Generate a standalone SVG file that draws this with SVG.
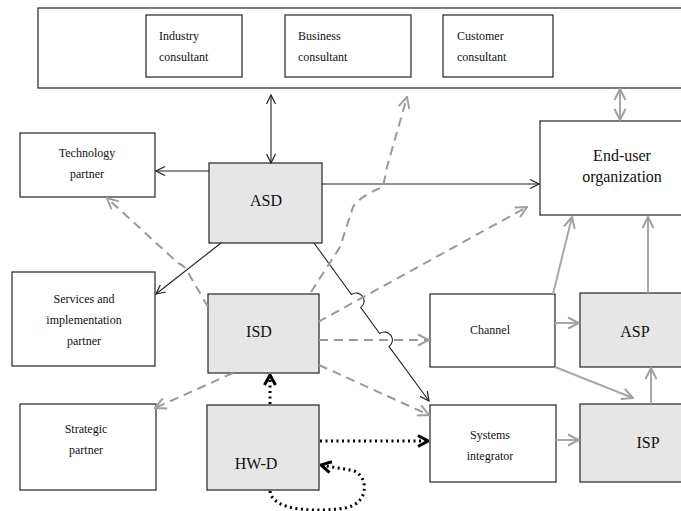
<svg xmlns="http://www.w3.org/2000/svg" width="681" height="511" viewBox="0 0 681 511">
<defs>
<style>
.box{fill:#fff;stroke:#333;stroke-width:1.3}
.gbox{fill:#e6e6e6;stroke:#333;stroke-width:1.3}
.t{font-family:"Liberation Serif","Times New Roman",serif;font-size:12px;fill:#111}
.tb{font-family:"Liberation Serif","Times New Roman",serif;font-size:16px;fill:#111}
.blk{fill:none;stroke:#222;stroke-width:1.1}
.gry{fill:none;stroke:#a8a8a8;stroke-width:2}
.dsh{fill:none;stroke:#999;stroke-width:2;stroke-dasharray:9 6}
.dot{fill:none;stroke:#000;stroke-width:3;stroke-dasharray:2 3.5}
</style>
<marker id="ab" markerUnits="userSpaceOnUse" markerWidth="12" markerHeight="12" viewBox="0 0 12 12" refX="11" refY="6" orient="auto-start-reverse"><path d="M2,1.5 L11,6 L2,10.5" fill="none" stroke="#222" stroke-width="1.2"/></marker>
<marker id="ag" markerUnits="userSpaceOnUse" markerWidth="14" markerHeight="14" viewBox="0 0 14 14" refX="13" refY="7" orient="auto-start-reverse"><path d="M2,1.5 L13,7 L2,12.5" fill="none" stroke="#a0a0a0" stroke-width="2"/></marker>
<marker id="ad" markerUnits="userSpaceOnUse" markerWidth="14" markerHeight="14" viewBox="0 0 14 14" refX="13" refY="7" orient="auto"><path d="M3,1.5 L13,7 L3,12.5" fill="none" stroke="#000" stroke-width="3"/></marker>
</defs>

<g id="consultants">
<rect class="box" x="38" y="8" width="650" height="80"/>
</g>
<g id="industry"><rect class="box" x="146" y="15" width="96" height="62"/><text class="t" x="159" y="40">Industry</text><text class="t" x="159" y="61">consultant</text></g>
<g id="business"><rect class="box" x="285" y="15" width="126" height="62"/><text class="t" x="298" y="40">Business</text><text class="t" x="298" y="61">consultant</text></g>
<g id="customer"><rect class="box" x="443" y="15" width="110" height="62"/><text class="t" x="457" y="40">Customer</text><text class="t" x="457" y="61">consultant</text></g>

<g id="technology"><rect class="box" x="20" y="133" width="135" height="64"/><text class="t" x="87" y="157" text-anchor="middle">Technology</text><text class="t" x="87" y="178" text-anchor="middle">partner</text></g>
<g id="asd"><rect class="gbox" x="209" y="163" width="113" height="80"/><text class="tb" x="266" y="206" text-anchor="middle">ASD</text></g>
<g id="enduser"><rect class="box" x="540" y="121" width="150" height="94"/><text class="tb" x="622" y="161" text-anchor="middle">End-user</text><text class="tb" x="622" y="182" text-anchor="middle">organization</text></g>
<g id="services"><rect class="box" x="12" y="272" width="143" height="94"/><text class="t" x="84" y="303" text-anchor="middle">Services and</text><text class="t" x="84" y="324" text-anchor="middle">implementation</text><text class="t" x="84" y="345" text-anchor="middle">partner</text></g>
<g id="isd"><rect class="gbox" x="208" y="294" width="111" height="79"/><text class="tb" x="259" y="337" text-anchor="middle">ISD</text></g>
<g id="channel"><rect class="box" x="430" y="294" width="125" height="73"/><text class="t" x="490" y="334" text-anchor="middle">Channel</text></g>
<g id="asp"><rect class="gbox" x="580" y="293" width="110" height="74"/><text class="tb" x="635" y="337" text-anchor="middle">ASP</text></g>
<g id="strategic"><rect class="box" x="20" y="404" width="136" height="86"/><text class="t" x="86" y="433" text-anchor="middle">Strategic</text><text class="t" x="86" y="454" text-anchor="middle">partner</text></g>
<g id="hwd"><rect class="gbox" x="207" y="405" width="112" height="85"/><text class="tb" x="256" y="469" text-anchor="middle">HW-D</text></g>
<g id="si"><rect class="box" x="430" y="405" width="126" height="77"/><text class="t" x="490" y="439" text-anchor="middle">Systems</text><text class="t" x="490" y="460" text-anchor="middle">integrator</text></g>
<g id="isp"><rect class="gbox" x="580" y="404" width="110" height="78"/><text class="tb" x="648" y="448" text-anchor="middle">ISP</text></g>

<g id="connectors">
<!-- black -->
<path class="blk" d="M271,95 L271,163" marker-start="url(#ab)" marker-end="url(#ab)"/>
<path class="blk" d="M209,171 L156,171" marker-end="url(#ab)"/>
<path class="blk" d="M322,184 L539,184" marker-end="url(#ab)"/>
<path class="blk" d="M221,243 L156,294" marker-end="url(#ab)"/>
<path class="blk" d="M314,243 L351.4,294.5 A8,8 0 0 1 360.8,307.5 L379.7,333.5 A8,8 0 0 1 389.1,346.5 L429,401" marker-end="url(#ab)"/>
<!-- gray solid -->
<path class="gry" d="M620,89 L620,120" marker-start="url(#ag)" marker-end="url(#ag)"/>
<path class="gry" d="M553,294 L572,217" marker-end="url(#ag)"/>
<path class="gry" d="M648,293 L648,217" marker-end="url(#ag)"/>
<path class="gry" d="M555,323 L579,323" marker-end="url(#ag)"/>
<path class="gry" d="M555,367 L633,398" marker-end="url(#ag)"/>
<path class="gry" d="M651,404 L651,368" marker-end="url(#ag)"/>
<path class="gry" d="M556,440 L579,440" marker-end="url(#ag)"/>
<!-- gray dashed -->
<path class="dsh" d="M311,292 L340,247 L353,207 Q360,196 383,187 L387,167 L407,97" marker-end="url(#ag)"/>
<path class="dsh" d="M318,322 L527,207" marker-end="url(#ag)"/>
<path class="dsh" d="M319,340 L429,340" marker-end="url(#ag)"/>
<path class="dsh" d="M319,365 L429,415" marker-end="url(#ag)"/>
<path class="dsh" d="M208,307 L190,276 Q186,266 178,263 L107,198" marker-end="url(#ag)"/>
<path class="dsh" d="M233,373 L155,408" marker-end="url(#ag)"/>
<!-- dotted -->
<path class="dot" d="M270,404 L270,375" marker-end="url(#ad)"/>
<path class="dot" d="M320,441 L428,441" marker-end="url(#ad)"/>
<path class="dot" d="M270,491 C272,512 320,512 345,508 C372,503 368,472 350,470 C340,468 330,467 321,465" marker-end="url(#ad)"/>
</g>
</svg>
